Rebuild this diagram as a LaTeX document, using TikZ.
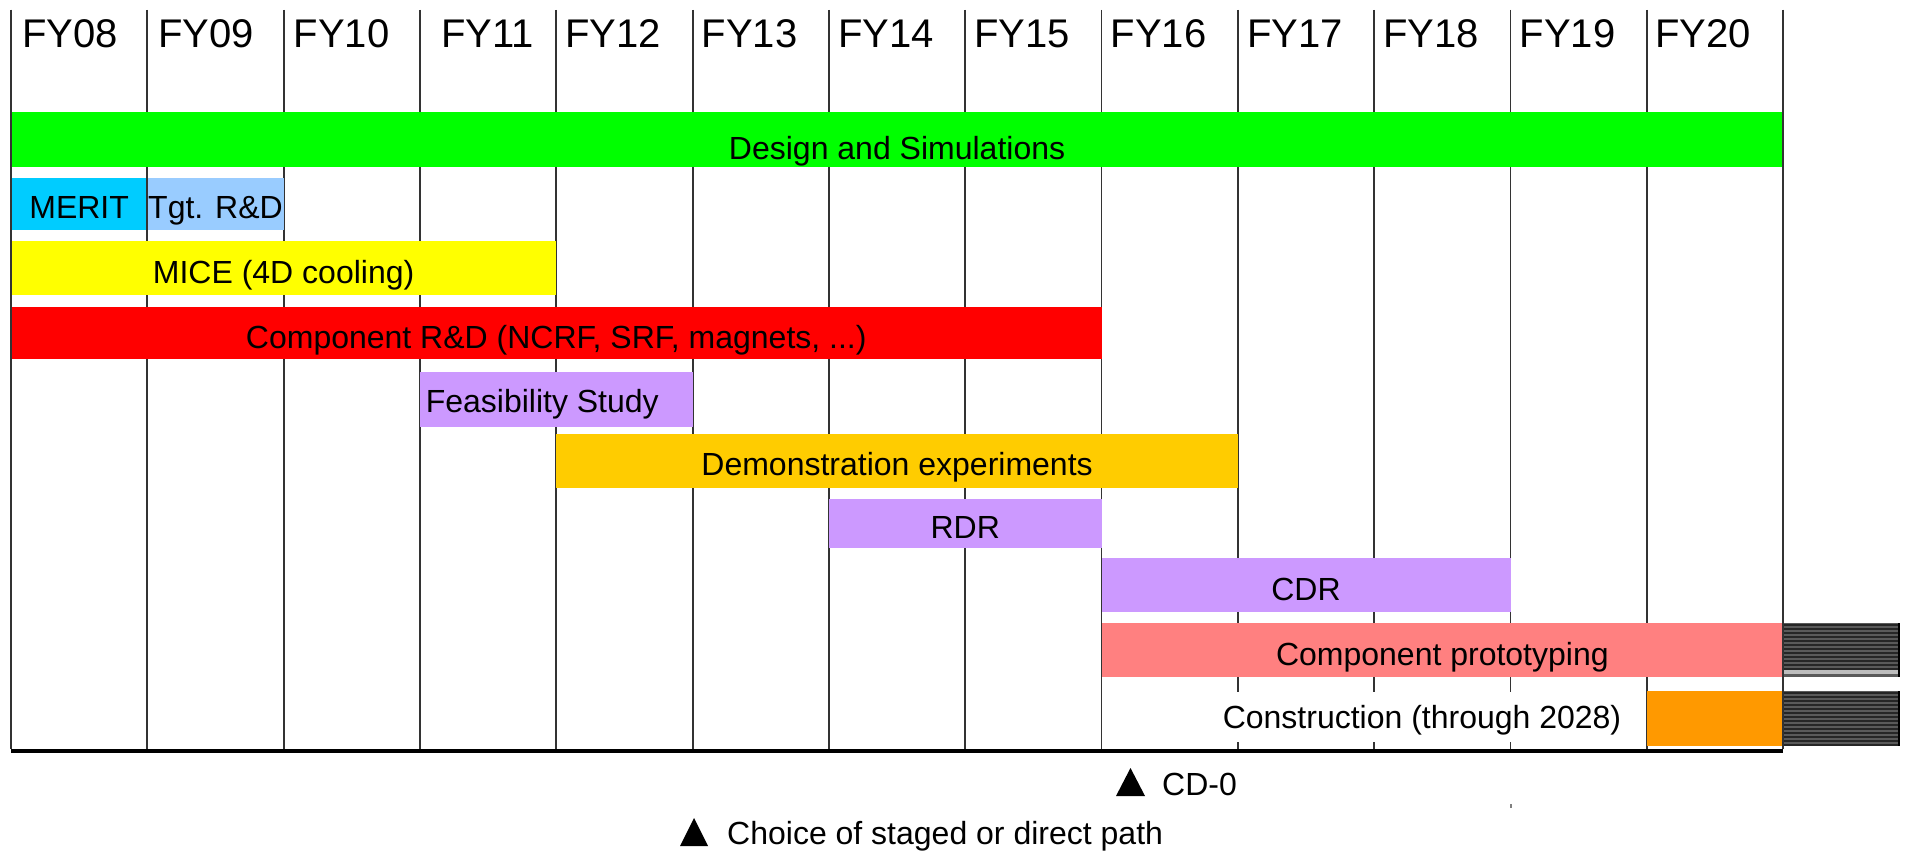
\documentclass[tikz,border=0pt]{standalone}
\usepackage{fontspec}
\setmainfont{Liberation Sans}
\usetikzlibrary{calc}

\definecolor{gridgray}{HTML}{333333}
\definecolor{cDesign}{HTML}{00FF00}
\definecolor{cMerit}{HTML}{00CCFF}
\definecolor{cTgt}{HTML}{99CCFF}
\definecolor{cMice}{HTML}{FFFF00}
\definecolor{cComp}{HTML}{FF0000}
\definecolor{cStudy}{HTML}{CC99FF}
\definecolor{cDemo}{HTML}{FFCC00}
\definecolor{cProto}{HTML}{FF8080}
\definecolor{cBuild}{HTML}{FF9900}
\definecolor{cHatch}{HTML}{5A5A5A}
\definecolor{cHatchLight}{HTML}{BDBDBD}

% bar spanning fiscal-year columns: name, first col, last col, top, height, colour
\newcommand\ganttbar[6]{%
  \pgfmathsetmacro\gbx{11+136.32*#2}%
  \pgfmathsetmacro\gbw{136.32*(#3-#2)}%
  \node[bar,fill=#6,minimum width=\gbw pt,minimum height=#5pt] (#1) at (\gbx,#4) {};}

\begin{document}
\begin{tikzpicture}[x=1pt,y=-1pt,
  gridline/.style={draw=gridgray,line width=1.8pt},
  bar/.style={anchor=north west,inner sep=0pt,outer sep=0pt,draw=none},
  header/.style={anchor=base west,inner sep=0pt,font=\fontsize{40pt}{46pt}\selectfont},
  bartext/.style={anchor=base,inner sep=0pt,font=\fontsize{32pt}{38pt}\selectfont},
  hatchline/.style={draw=black!85,line width=1.1pt},
  axis/.style={draw=black,line width=3.5pt},
]
\useasboundingbox[fill=white] (0,0) rectangle (1909,851);

% column boundaries
\foreach \i in {0,...,13}
  \coordinate (g\i) at ({11+136.32*\i},10);
\foreach \i in {0,...,13}
  \coordinate (b\i) at ({11+136.32*\i},749);
\foreach \i in {0,...,13}
  \draw[gridline] (g\i) -- (b\i);

% fiscal year headings
\foreach \i/\lab/\dx in {0/FY08/11,1/FY09/11,2/FY10/10,3/FY11/21,4/FY12/9,
    5/FY13/9,6/FY14/9,7/FY15/9,8/FY16/9,9/FY17/9,10/FY18/9,11/FY19/9,12/FY20/8}
  \node[header] (h\i) at ($(g\i)+(\dx,38)$) {\lab};

% activity bars
\ganttbar{design}{0}{13}{112}{55}{cDesign}
\ganttbar{merit}{0}{1}{178}{52}{cMerit}
\ganttbar{tgt}{1}{2}{178}{52}{cTgt}
\ganttbar{mice}{0}{4}{241}{54}{cMice}
\ganttbar{comp}{0}{8}{307}{52}{cComp}
\ganttbar{feas}{3}{5}{372}{55}{cStudy}
\ganttbar{demo}{4}{9}{434}{54}{cDemo}
\ganttbar{rdr}{6}{8}{499}{49}{cStudy}
\ganttbar{cdr}{8}{11}{558}{54}{cStudy}
\ganttbar{proto}{8}{13}{623}{54}{cProto}
\ganttbar{build}{12}{13}{691}{55}{cBuild}

% construction row background
\node[bar,fill=white,minimum width=538pt,minimum height=50pt] (conscover) at (1105,692) {};

% continuation beyond FY20
\node[bar,fill=cHatch,minimum width=116pt,minimum height=54pt] (hatchA) at (1783.2,623) {};
\node[bar,fill=cHatch,minimum width=116pt,minimum height=55pt] (hatchB) at (1783.2,691) {};
\fill[cHatchLight] ($(hatchA.south west)+(0,-8)$) rectangle ($(hatchA.south east)+(0,-3)$);
\foreach \k in {0,...,11}
  \draw[hatchline] ($(hatchA.north west)+(0,2+4*\k)$) -- ($(hatchA.north east)+(0,2+4*\k)$);
\foreach \k in {0,...,13}
  \draw[hatchline] ($(hatchB.north west)+(0,2+4*\k)$) -- ($(hatchB.north east)+(0,2+4*\k)$);
\draw[draw=black,line width=1.5pt] (hatchA.north east) -- (hatchA.south east);
\draw[draw=black,line width=1.5pt] (hatchB.north east) -- (hatchB.south east);

% grid lines visible through the bars
\draw[gridline] (merit.north east) -- (merit.south east);
\draw[gridline] (g0) -- (b0);
\draw[gridline] (g13) -- (b13);

% bar labels
\node[bartext] (designlbl) at ($(design.center)+(0,20)$) {Design and Simulations};
\node[bartext] (meritlbl) at ($(merit.center)+(0,14)$) {MERIT};
\node[bartext] (tgtlbl) at ($(tgt.center)+(0,14)$) {Tgt. R\&D};
\node[bartext] (micelbl) at ($(mice.center)+(0,15)$) {MICE (4D cooling)};
\node[bartext] (complbl) at ($(comp.center)+(0,15)$) {Component R\&D (NCRF, SRF, magnets, ...)};
\node[bartext] (feaslbl) at ($(feas.center)+(-14,13)$) {Feasibility Study};
\node[bartext] (demolbl) at ($(demo.center)+(0,14)$) {Demonstration experiments};
\node[bartext] (rdrlbl) at ($(rdr.center)+(0,15)$) {RDR};
\node[bartext] (cdrlbl) at ($(cdr.center)+(0,15)$) {CDR};
\node[bartext] (protolbl) at ($(proto.center)+(0,15)$) {Component prototyping};
\node[bartext] (conslbl) at (1422,728) {Construction (through 2028)};

% time axis
\coordinate (axl) at (11,751);
\coordinate (axr) at (1783.2,751);
\draw[axis] (axl) -- (axr);

% milestones
\coordinate (cd0) at (1116,796);
\fill[black] (cd0) -- ++(29,0) -- ++(-14.5,-28) -- cycle;
\node[bartext,anchor=base west] (cd0lbl) at (1162,795) {CD-0};
\coordinate (choice) at (680,846);
\fill[black] (choice) -- ++(28,0) -- ++(-14,-28) -- cycle;
\node[bartext,anchor=base west] (choicelbl) at (727,844) {Choice of staged or direct path};

% small mark below FY19
\fill[gray] (1509.5,804) rectangle (1512,807.5);
\end{tikzpicture}
\end{document}
